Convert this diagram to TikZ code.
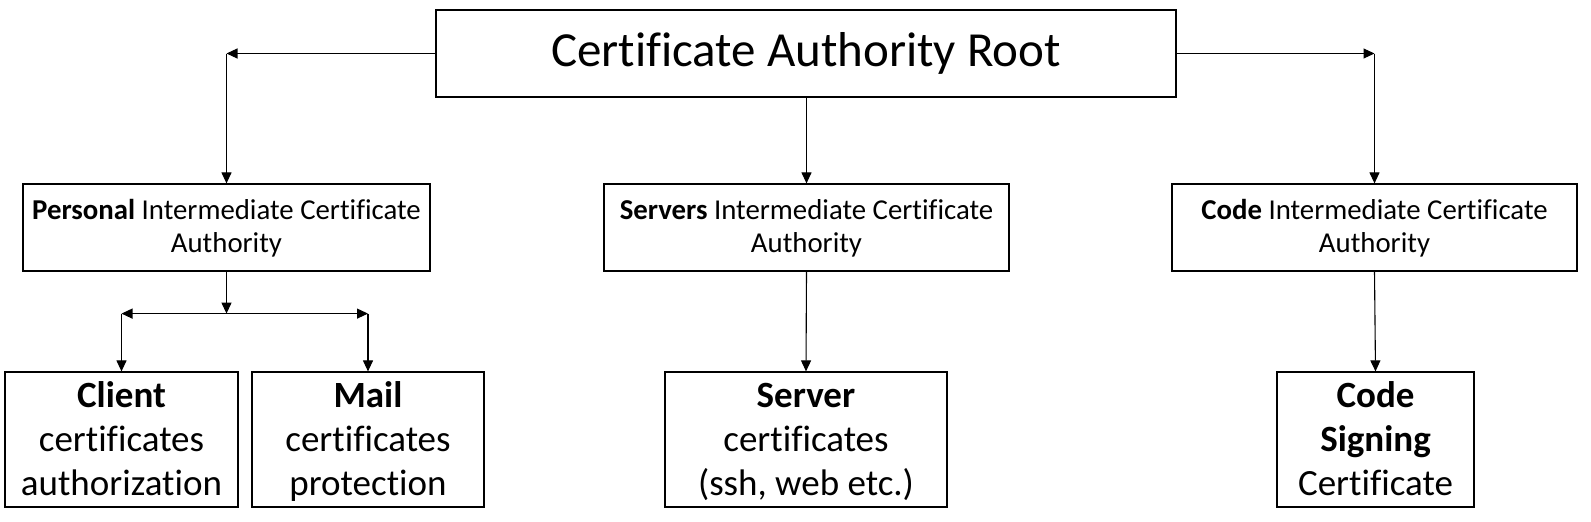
\documentclass[tikz,border=0pt]{standalone}
\usepackage{fontspec}
\setmainfont{Carlito}[Ligatures=NoCommon]
\usetikzlibrary{arrows.meta}
\newcommand\ls{\rule[-0.23\baselineskip]{0pt}{\baselineskip}}
\begin{document}
\begin{tikzpicture}[x=1pt,y=-1pt,
  box/.style={draw=black,line width=1.2pt,align=center,inner sep=0pt},
  rootbox/.style={box,minimum width=740pt,minimum height=87pt,font=\fontsize{49}{58}\selectfont},
  midbox/.style={box,minimum width=405pt,minimum height=87pt,font=\fontsize{28.8}{33}\selectfont},
  leafbox/.style={box,minimum height=135pt,font=\fontsize{37}{44}\selectfont},
  conn/.style={line width=1.1pt,draw=black},
  arr/.style={conn,-{Triangle[length=11pt,width=10pt]}}]
\useasboundingbox (0,0) rectangle (1591,522);
\node[rootbox] (root) at (806,53.5) {Certificate Authority Root};
\node[midbox,minimum width=407pt] (personal) at (226.5,227.5) {\ls\textbf{Personal} Intermediate Certificate\\\ls Authority};
\node[midbox] (servers) at (806.5,227.5) {\ls\textbf{Servers} Intermediate Certificate\\\ls Authority};
\node[midbox] (code) at (1374.5,227.5) {\ls\textbf{Code} Intermediate Certificate\\\ls Authority};
\node[leafbox,minimum width=233pt] (client) at (121.5,439.5) {\ls\textbf{Client}\\\ls certificates\\\ls authorization};
\node[leafbox,minimum width=232pt] (mail) at (368,439.5) {\ls\textbf{Mail}\\\ls certificates\\\ls protection};
\node[leafbox,minimum width=282pt] (server) at (806,439.5) {\ls\textbf{Server}\\\ls certificates\\\ls (ssh, web etc.)};
\node[leafbox,minimum width=197pt] (codesign) at (1375.5,439.5) {\ls\textbf{Code}\\\ls\textbf{Signing}\\\ls Certificate};
\coordinate (jL) at (personal.north |- root.west);
\coordinate (jR) at (code.north |- root.east);
\coordinate (jP) at ([yshift=-42pt]personal.south);
\coordinate (cL) at (client.north |- jP);
\coordinate (cR) at (mail.north |- jP);
\draw[arr] (root.west) -- (jL);
\draw[arr] (jL) -- (personal.north);
\draw[arr] (root.east) -- (jR);
\draw[arr] (jR) -- (code.north);
\draw[arr] (servers.north |- root.south) -- (servers.north);
\draw[arr] (personal.south) -- (jP);
\draw[arr] (jP) -- (cL);
\draw[arr] (jP) -- (cR);
\draw[arr] (cL) -- (client.north);
\draw[arr] (cR) -- (mail.north);
\draw[arr] (servers.south) -- (server.north);
\draw[arr] (code.south) -- (codesign.north);
\end{tikzpicture}
\end{document}
